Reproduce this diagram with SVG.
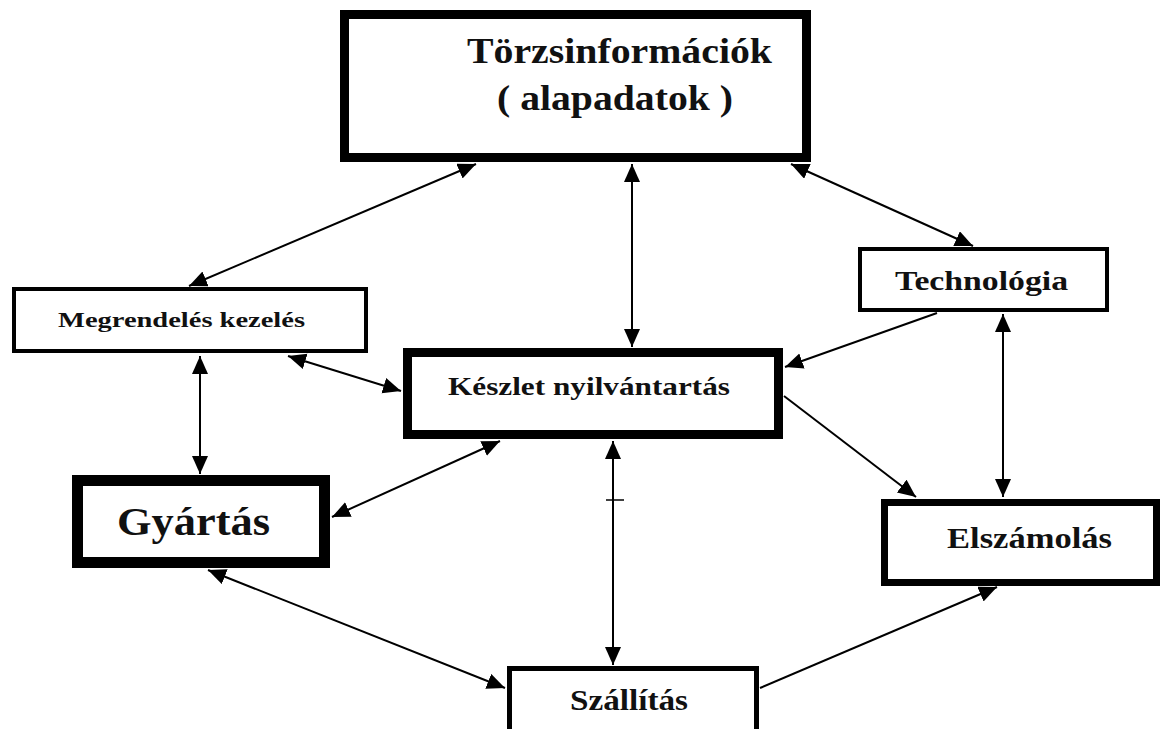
<svg xmlns="http://www.w3.org/2000/svg" width="1163" height="729" viewBox="0 0 1163 729">
<style>
.box{fill:#fff;stroke:#000}
.t{font-family:"Liberation Serif","Times New Roman",serif;font-weight:bold;fill:#111}
.c line{stroke:#000;stroke-width:2}
</style>
<defs>
<marker id="ah" markerUnits="userSpaceOnUse" markerWidth="20" markerHeight="18" refX="18" refY="8" orient="auto-start-reverse">
<path d="M0,0 L18,8 L0,16 Z" fill="#000"/>
</marker>
</defs>
<rect width="1163" height="729" fill="#fff"/>
<g class="c" id="connectors">
<line x1="476" y1="164" x2="189" y2="286" marker-start="url(#ah)" marker-end="url(#ah)"/>
<line x1="632" y1="164" x2="632" y2="347" marker-start="url(#ah)" marker-end="url(#ah)"/>
<line x1="791" y1="164" x2="973" y2="246" marker-start="url(#ah)" marker-end="url(#ah)"/>
<line x1="200" y1="356" x2="200" y2="474" marker-start="url(#ah)" marker-end="url(#ah)"/>
<line x1="288" y1="356" x2="401" y2="391" marker-start="url(#ah)" marker-end="url(#ah)"/>
<line x1="937" y1="313" x2="785" y2="367" marker-end="url(#ah)"/>
<line x1="1003" y1="314" x2="1003" y2="497" marker-start="url(#ah)" marker-end="url(#ah)"/>
<line x1="784" y1="396" x2="916" y2="497" marker-end="url(#ah)"/>
<line x1="500" y1="441" x2="332" y2="517" marker-start="url(#ah)" marker-end="url(#ah)"/>
<line x1="613" y1="441" x2="613" y2="665" marker-start="url(#ah)" marker-end="url(#ah)"/>
<line x1="606" y1="500" x2="624" y2="500" style="stroke-width:1.5"/>
<line x1="208" y1="570" x2="505" y2="688" marker-start="url(#ah)" marker-end="url(#ah)"/>
<line x1="760" y1="688" x2="997" y2="587" marker-end="url(#ah)"/>
</g>
<g id="torzs">
<rect class="box" x="344.5" y="14.5" width="462" height="143" stroke-width="9"/>
<text class="t" x="467" y="63" font-size="36" textLength="305" lengthAdjust="spacingAndGlyphs">Törzsinformációk</text>
<text class="t" x="497" y="110" font-size="36" textLength="236" lengthAdjust="spacingAndGlyphs">( alapadatok )</text>
</g>
<g id="megrendeles">
<rect class="box" x="14" y="289" width="352" height="62" stroke-width="4"/>
<text class="t" x="58" y="327" font-size="22" textLength="247" lengthAdjust="spacingAndGlyphs">Megrendelés kezelés</text>
</g>
<g id="keszlet">
<rect class="box" x="407.5" y="352.5" width="371" height="82" stroke-width="9"/>
<text class="t" x="448" y="395" font-size="26" textLength="282" lengthAdjust="spacingAndGlyphs">Készlet nyilvántartás</text>
</g>
<g id="gyartas">
<rect class="box" x="77.5" y="480.5" width="247" height="82" stroke-width="11"/>
<text class="t" x="117" y="535" font-size="41" textLength="153" lengthAdjust="spacingAndGlyphs">Gyártás</text>
</g>
<g id="technologia">
<rect class="box" x="860" y="249" width="247" height="61" stroke-width="4"/>
<text class="t" x="895" y="290" font-size="28" textLength="173" lengthAdjust="spacingAndGlyphs">Technológia</text>
</g>
<g id="elszamolas">
<rect class="box" x="884.5" y="502.5" width="272" height="80" stroke-width="7"/>
<text class="t" x="947" y="548" font-size="29" textLength="165" lengthAdjust="spacingAndGlyphs">Elszámolás</text>
</g>
<g id="szallitas">
<rect class="box" x="509.5" y="668.5" width="247" height="70" stroke-width="5"/>
<text class="t" x="570" y="710" font-size="29" textLength="118" lengthAdjust="spacingAndGlyphs">Szállítás</text>
</g>
</svg>
